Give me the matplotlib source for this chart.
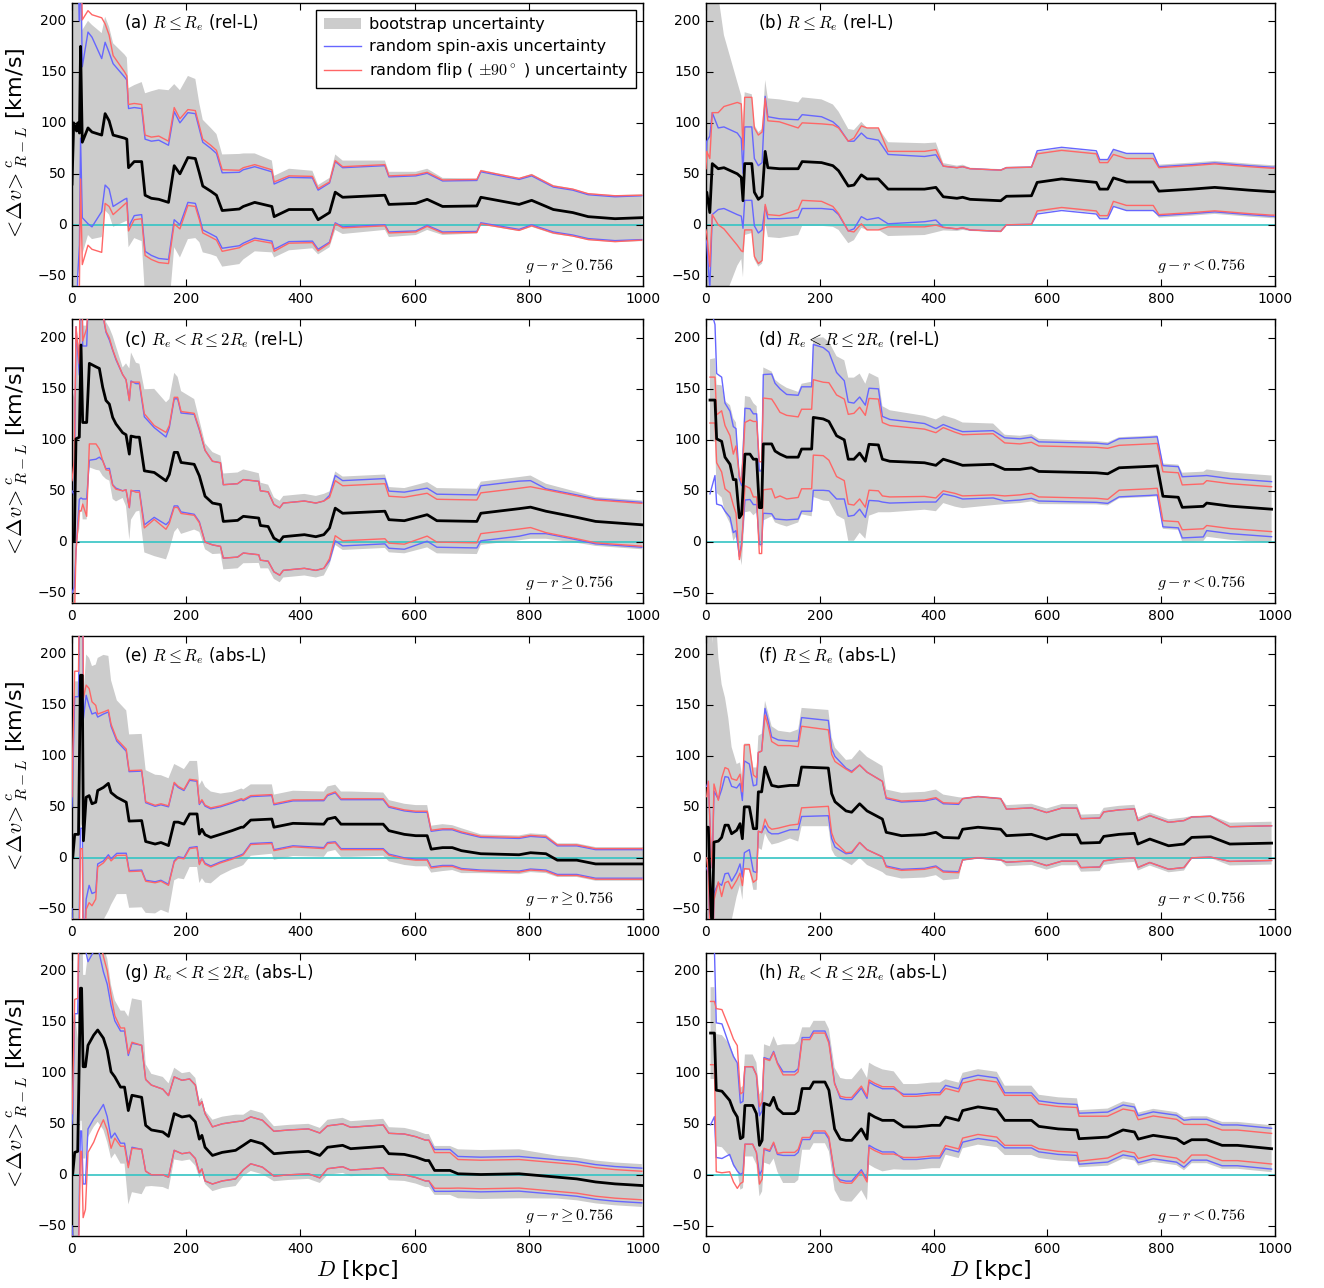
import numpy as np
import matplotlib
matplotlib.use('Agg')
import matplotlib.pyplot as plt
from matplotlib.patches import Patch
from matplotlib.lines import Line2D

plt.style.use('classic')

# ---------------- data ----------------
# D [kpc], mean <dv>, bootstrap half-width, spin-axis half-width, flip half-width
x_a = [0, 3, 8, 10, 13, 15, 18, 28, 35, 52, 58, 65, 72, 92, 96, 99, 109, 122, 128, 139, 152, 169, 179, 189, 203, 216, 223, 229, 243, 253, 263, 293, 300, 320, 350, 354, 380, 421, 431, 451, 461, 474, 548, 555, 602, 622, 649, 709, 716, 783, 805, 843, 877, 904, 951, 998]
mean_a = [40, 100, 92, 100, 90, 175, 81, 95, 91, 88, 109, 102, 88, 85, 84, 56, 62, 62, 29, 26, 25, 22, 58, 50, 66, 65, 51, 38, 33, 29, 14, 15.5, 18, 22, 18, 8, 15, 15, 5, 12, 32, 27, 29, 20, 21, 25, 18, 18.5, 27, 20, 24, 15, 12, 8, 6, 7]
boot_a = [200, 200, 180, 150, 130, 120, 110, 105, 105, 100, 95, 92, 90, 82, 80, 78, 75, 78, 100, 105, 108, 110, 80, 82, 80, 78, 68, 65, 62, 60, 55, 54, 52, 48, 45, 40, 40, 38, 34, 34, 37, 36, 34, 32, 31, 30, 28, 27, 27, 26, 26, 24, 23.5, 23, 23, 23]
spin_a = [200, 250, 200, 150, 110, 90, 74, 94, 93, 75, 70, 67, 70, 60, 58, 58, 53, 52, 55, 56, 58, 56, 53, 50, 44, 44, 43, 43, 42, 41, 37, 36, 36, 35, 34, 32, 31.5, 31, 29, 29, 30, 29, 29, 27, 27, 25.5, 25, 25, 25, 24.5, 24, 22, 22, 21.5, 21.5, 21.5]
flip_a = [250, 300, 250, 200, 150, 130, 120, 115, 115, 115, 88, 84, 78, 65, 62, 62, 57, 56, 59, 60, 62, 60, 57, 54, 47, 47, 46, 46, 45, 44, 40, 38, 38, 37, 36, 34, 33, 32.5, 30.5, 30, 31, 30, 30, 28, 28, 26.5, 26, 26, 26, 25.5, 25, 23, 23, 22.5, 22.5, 22]

x_b = [0, 1.3, 6.7, 11, 21.5, 31.5, 55, 62, 65, 68, 80.5, 85, 92, 98.6, 104, 108.7, 129, 162, 169, 203, 223, 233, 250, 260, 273, 283, 303, 320, 384, 404, 417, 441, 451, 464, 518, 528, 572, 582, 625, 686, 692, 706, 716, 739, 786, 796, 854, 894, 954, 994, 1000]
mean_b = [25, 32, 12, 60, 55, 56, 50, 46.5, 23.6, 60, 60, 32, 25, 28, 72, 56, 55, 55, 62, 61, 58, 53, 38, 39, 49, 45, 45, 35, 35, 36.7, 27.5, 26, 27, 25, 23.6, 28, 28.5, 41.6, 45, 41.6, 35, 35, 46, 42, 42, 33, 35, 36.7, 34, 32.5, 32.5]
boot_b = [200, 250, 230, 200, 170, 130, 90, 80, 75, 70, 68, 66, 66, 66, 70, 68, 68, 65, 63, 62, 60, 58, 56, 54, 52, 50, 50, 46, 45, 44, 33, 32, 32, 31, 31, 29, 29, 30, 30, 30, 29, 29, 28, 28, 28, 26, 26, 26, 26, 26, 26]
spin_b = [40, 50, 75, 50, 40, 40, 40, 38, 27, 36, 36, 33, 33, 33, 54, 50, 49, 48, 46, 45, 43, 43, 44, 43, 41, 40, 38, 34, 32, 32, 30, 30, 30, 30, 30, 28, 28, 31, 31, 31, 29, 29, 28, 28, 28, 24, 24, 24, 24, 24, 24]
flip_b = [30, 40, 53, 50, 55, 60, 70, 72, 50, 65, 65, 63, 63, 63, 52, 46, 46, 40, 38, 38, 40, 42, 44, 46, 48, 50, 50, 37, 37, 37, 30, 30, 30, 30, 30, 28, 28, 28, 28, 28, 26, 26, 23, 23, 23, 23, 23, 23, 23, 23, 23]

x_c = [0, 4.1, 7, 12.8, 15.8, 18.7, 25.7, 30.4, 42, 47.9, 53.7, 59.5, 65.4, 71.2, 77, 88.7, 94.6, 100.4, 103.3, 112, 118, 126.7, 144, 164.6, 170.4, 179, 185, 191, 214, 223, 233, 246, 260, 265, 290, 300, 327, 330, 343.5, 353.6, 363.7, 370, 407, 427, 441, 451, 461, 474, 548, 555, 582, 622, 639, 709, 716, 783, 803, 830, 884, 917, 998]
mean_c = [0, 0.7, 101, 102.6, 193, 117, 117, 175, 171.6, 170, 151.7, 138.6, 135, 122, 115.6, 107, 105, 86, 103.7, 102.6, 102.6, 69.6, 68, 59.8, 66, 87.7, 87.7, 77.8, 76, 64.7, 44.7, 38, 36.5, 20, 21, 25, 23.3, 16, 15, 3.6, 0.3, 5, 7, 5, 7, 13.5, 33, 28, 30, 21.7, 20.7, 26.6, 20.7, 20, 28, 32.5, 34, 30, 24, 20, 16.7]
boot_c = [150, 140, 100, 90, 150, 95, 95, 102, 101, 100, 87, 77, 75, 80, 76, 64, 70, 84, 82, 73, 72, 80, 82, 77, 74, 78, 74, 70, 64, 55, 52, 50, 48, 47, 47, 46, 44, 42, 41, 40, 40, 40, 40, 40, 40, 36, 36, 36, 36, 32, 32, 32, 32, 32, 31, 31, 31, 27, 25, 24, 24]
spin_c = [50, 45, 110, 61, 150, 75, 75, 95, 90.6, 87, 72, 67, 63, 66, 63, 57, 54, 52.5, 54, 52.5, 52.5, 53, 44, 43, 46, 52.5, 52.5, 48.5, 49, 45, 45, 41, 41, 36, 36, 36, 36, 34, 34, 33, 33, 33, 33, 33, 33, 32, 32, 32, 32, 28, 28, 26, 26, 26, 27, 27, 26, 22, 22, 22, 22]
flip_c = [60, 80, 110, 72, 163, 80, 92, 79, 75.6, 79, 72, 68, 65, 66.5, 64, 57, 54, 52.5, 53, 54, 54, 56, 46, 47.5, 48, 54, 54, 50, 50, 46, 45, 41, 41, 36, 36, 36, 36, 34, 34, 33, 33, 33, 33, 33, 33, 30, 27, 27, 27, 23, 23, 21, 21, 21, 20, 20, 20, 21, 21, 21, 21]

x_d = [7, 15.8, 18.7, 27.5, 33.4, 42.2, 48, 52.7, 58.6, 62.7, 68.5, 77.3, 83.2, 89, 93.7, 97.8, 100.7, 115.4, 121.3, 130, 141.8, 162, 168, 185.7, 188.6, 206, 216, 229.5, 243, 250, 260, 270, 280, 286.5, 303, 310, 323, 384, 404, 417, 437.5, 451, 504.6, 525, 551.6, 572, 585, 686, 706, 726, 780, 793, 803, 830, 837, 874, 880, 921, 994]
mean_d = [139, 139, 101, 98.5, 83, 76, 61, 61, 23.6, 27, 86, 86, 81, 81, 33.5, 33.5, 96, 96, 89, 86, 83, 83, 91, 91, 122, 120.5, 118, 104, 100, 81, 81, 87, 79, 95.6, 95, 81, 79, 77.5, 75, 81, 77.5, 75, 76, 71, 71, 72.6, 69, 67.7, 66.7, 72.6, 74, 74.5, 44.7, 43.7, 33.8, 34.8, 38, 35, 32]
boot_d = [40, 41, 53, 55, 55, 58, 60, 56, 34, 50, 57, 56, 55, 52, 38, 38, 75, 71, 70, 69, 68, 64, 64, 66, 78, 80, 78, 78, 78, 80, 80, 78, 76, 70, 66, 52, 50, 46, 45, 43, 43, 42, 40, 34, 33, 33, 32, 31, 31, 30, 30, 30, 32, 32, 34, 34, 33, 33, 33]
spin_d = [92, 74, 64, 63, 53, 52, 52, 50, 38, 28, 45, 44.5, 44.5, 44.5, 36, 36, 68, 68.5, 66.5, 64, 61.5, 60.7, 61, 61, 71.5, 70, 68, 62, 58, 56, 55, 55, 55, 55, 55, 42, 41, 38.5, 36, 34, 33, 33, 33, 31, 30, 30, 29, 29, 29, 28.5, 28.5, 28.5, 30, 30, 30, 30, 27, 27, 27]
flip_d = [22.5, 22.5, 23.5, 30, 31, 28, 25, 33, 41, 31, 31, 33.5, 37, 37, 45, 45, 45, 44, 46, 41, 41, 39.5, 39, 39, 37, 36, 38, 40, 40, 44, 45, 45, 45, 45, 45, 36, 35, 33, 32, 31, 30, 30, 30, 26, 25, 25, 25, 25, 25, 22, 22, 22, 24, 24, 22, 22, 22, 22, 22]

x_e = [0, 1.3, 4.7, 11.4, 14.8, 18, 20, 24.8, 30, 35, 41.6, 45, 55, 63.7, 68.4, 78.5, 95, 100, 122, 129, 145.6, 155.7, 169, 179, 186, 196, 206, 219, 223, 227.5, 233, 243, 260, 280, 296.6, 300, 313, 350, 353.6, 387, 441, 447.5, 461, 471, 488, 545, 555, 582, 602, 622, 629, 649, 666, 682, 716, 783, 803, 830, 850, 884, 917, 984, 1000]
mean_e = [0, 0, 23, 23, 179, 179, 16.7, 59.4, 61, 53, 54.5, 66, 69, 73, 64, 59.4, 54.5, 36, 36.5, 16, 13.5, 15, 12, 35, 35, 33, 43, 43, 23.3, 28, 22.7, 20, 23, 26.6, 30, 30, 37, 38, 30, 33.8, 33, 38, 39.7, 33, 33, 33, 26.6, 23, 21.7, 21.7, 8.5, 10, 10, 7, 4, 3, 5, 4, -2.3, -2.3, -6, -6, -6]
boot_e = [150, 150, 150, 150, 150, 145, 140, 140, 135, 135, 135, 130, 130, 125, 110, 95, 90, 85, 85, 70, 68, 66, 66, 57, 55, 54, 52, 52, 48, 48, 47, 45, 40, 38, 38, 37, 35, 34, 32, 32, 32, 32, 32, 32, 32, 31, 30, 30, 30, 30, 23, 23, 22, 22, 19, 19, 19, 19, 16.5, 16.5, 16.5, 16.5, 16.5]
spin_e = [50, 80, 135, 135, 150, 150, 120, 100, 88, 88, 88, 72, 72, 70, 65, 55, 50, 48.5, 48.5, 38, 37, 37, 38, 38, 34, 33, 33, 32, 29, 28, 28, 28, 27, 27, 27, 26, 23, 23, 22, 22, 23, 23, 24, 24, 24, 24, 23, 23, 23, 23, 17.5, 17.5, 17.5, 17.5, 16, 16, 16, 16, 14, 14, 14, 14, 14]
flip_e = [60, 100, 160, 160, 170, 170, 140, 110, 105, 100, 95, 75, 74, 72, 67, 57, 52, 49.5, 49.5, 39, 38, 38, 39, 39, 35, 34, 34, 33, 30, 29, 29, 29, 28, 28, 28, 27, 24, 24, 23, 23, 24, 24, 25, 25, 25, 25, 24, 24, 24, 24, 18.5, 18.5, 18.5, 18.5, 17, 17, 17, 17, 15, 15, 15, 15, 15]

x_f = [1.3, 4.1, 8.8, 11.1, 14, 21.7, 27.5, 33.4, 39.2, 45, 53.9, 59.8, 63.9, 67.4, 76.2, 83.2, 89, 92, 97.8, 103.7, 109.6, 115.4, 127, 147.6, 162, 168, 215, 220.8, 226.7, 246, 256, 270, 283, 310, 316.7, 343.5, 384, 404, 417, 444, 451, 478, 518, 528, 572, 598.5, 625, 652, 659, 692, 699, 726, 753, 759, 780, 813, 840, 853.5, 887, 920.6, 994]
mean_f = [30, 30, -52, -70, 15.4, 16.4, 20, 32, 32, 23.6, 27, 33.5, 18.7, 50, 50, 28.6, 28.6, 64.7, 64.7, 89, 79.5, 71, 69.6, 71, 71, 89, 88, 63, 55, 46, 44.7, 53, 46, 38, 25, 21.7, 22.7, 25, 20, 19.4, 28, 30, 28, 21.7, 23, 18.4, 22.7, 22.7, 14.4, 15, 21, 23, 24, 13.5, 18.4, 11.8, 13.5, 20, 20.7, 13.5, 14.4]
boot_f = [250, 280, 300, 280, 250, 180, 150, 125, 105, 85, 65, 60, 60, 62, 62, 60, 60, 55, 57, 65, 62, 58, 55, 52, 55, 58, 57, 55, 53, 50, 52, 53, 53, 52, 42, 42, 42, 42, 42, 40, 31, 31, 31, 30, 30, 30, 30, 30, 28, 28, 28, 28, 28, 26, 26, 26, 26, 21, 21, 21, 21]
spin_f = [40, 45, 60, 60, 50, 41, 47, 47.6, 47, 46.5, 41.5, 39.5, 37.5, 45, 42, 42, 43, 38.6, 40, 57.5, 54, 47.5, 46, 43.5, 43.5, 48.5, 46.7, 44, 44.4, 42, 40, 38, 38, 37, 33, 33, 33, 33, 33, 33, 30, 30, 30, 26, 26, 26, 26, 26, 24, 24, 24, 24, 24, 23, 23, 23, 23, 20, 20, 17, 17]
flip_f = [30, 45, 60, 60, 57, 40, 58, 56.5, 55, 54, 49, 48.5, 46, 60.6, 61, 52.6, 50, 38.6, 40, 51, 49, 43, 40.5, 39, 38, 40, 37.5, 38.5, 39.4, 41, 39, 38, 38, 37, 34, 34, 34, 34, 34, 34, 30, 30, 30, 26, 26, 26, 26, 26, 24, 24, 24, 24, 24, 23, 23, 23, 23, 20, 20, 17, 17]

x_g = [0, 1.3, 4.7, 10, 14.8, 16.8, 19.5, 23.5, 28, 38, 45, 55, 61.7, 68.4, 75, 85, 92, 98.6, 105, 122, 129, 139, 159, 169, 179, 192.6, 206, 216, 223, 227.5, 233, 246, 263, 286.5, 300, 313, 333.5, 353.6, 380, 414, 434, 447.5, 474, 488, 545, 555, 582, 602, 619, 625, 635, 662, 676, 716, 783, 850, 884, 917, 951, 998]
mean_g = [0, 1, 22, 23, 183, 183, 106, 106, 127, 137, 142, 134, 122, 101, 96, 86, 86, 63, 78, 76, 48.5, 44, 42, 37.7, 60, 56.7, 58, 52, 35, 38.7, 27, 19, 22, 24, 28.9, 33.8, 30.5, 20.7, 22, 23, 19, 27, 28.9, 25.6, 27.9, 20.7, 20, 17.4, 14, 14, 4.3, 4.3, 1, 0.3, 1, -2.3, -4, -7, -8.9, -10.5]
boot_g = [150, 150, 140, 110, 130, 130, 90, 90, 90, 90, 90, 90, 90, 85, 75, 75, 75, 92, 95, 95, 60, 55, 54, 52, 45, 43, 43, 43, 38, 37, 36, 35, 35, 35, 30, 30, 30, 27, 27, 27, 27, 27, 27, 27, 27, 26, 26, 26, 26, 26, 24, 24, 24, 24, 24, 21, 21, 21, 21, 21]
spin_g = [50, 60, 136, 135, 140, 140, 115, 115, 82, 82, 82, 65, 65, 65, 55, 55, 55, 54, 51, 51, 45, 44, 42, 40, 36, 36, 36, 36, 33, 33, 33, 28, 28, 28, 24, 23, 23, 22, 22, 22, 22, 21, 21, 21, 21, 20, 20, 20, 20, 20, 20.5, 20.5, 17, 17, 17, 17, 17, 17, 17, 17]
flip_g = [60, 80, 150, 150, 160, 160, 148, 140, 105, 105, 100, 80, 78, 75, 60, 58, 58, 56, 52, 51, 45, 44, 42, 40, 36, 36, 36, 36, 33, 33, 33, 28, 28, 28, 24, 23, 23, 22, 22, 22, 22, 21, 21, 21, 21, 20, 20, 20, 20, 20, 17.5, 17.5, 14, 14, 14, 14, 14, 14, 14, 14]

x_h = [8, 14.8, 18, 28, 41.6, 48.3, 55, 60.4, 65, 68.4, 82, 88.6, 94, 98.6, 102, 112, 118.8, 125.5, 135.5, 155.7, 162, 169, 182.5, 189, 209, 216, 226, 236, 246, 256, 273, 283, 286.5, 296.6, 310, 330, 347, 370, 397, 411, 421, 444, 451, 478, 511, 525, 572, 585, 619, 652, 655.6, 706, 733, 753, 759.6, 786, 827, 840, 853.5, 880, 907, 934, 994]
mean_h = [139, 139, 83, 82, 73, 63, 56.7, 35.4, 37, 68, 68, 60, 28.9, 33.8, 70, 68, 76, 65, 60, 60, 63, 84.6, 84.6, 91, 91, 83, 45, 35, 33.8, 33.8, 45, 35, 60, 56.7, 53.4, 53.4, 47, 47, 48.5, 48.5, 56.7, 53.4, 63, 66.6, 64, 53.4, 53.4, 47.5, 45, 44, 35.4, 37, 44, 42, 35, 38.7, 35.4, 30.5, 34.4, 34.4, 28.9, 28.9, 25.6]
boot_h = [45, 45, 55, 55, 55, 55, 52, 50, 50, 50, 50, 50, 50, 50, 58, 58, 60, 62, 68, 68, 68, 60, 60, 60, 60, 60, 60, 60, 60, 60, 60, 60, 50, 50, 50, 48, 42, 42, 42, 42, 37, 37, 37, 37, 37, 34, 34, 31, 31, 31, 28, 28, 28, 28, 26, 26, 26, 26, 23, 23, 23, 23, 23]
spin_h = [90, 82, 66, 66, 53, 53, 53, 35, 35, 38, 38, 38, 29, 29, 45, 45, 45, 45, 41, 41, 41, 50, 50, 50, 50, 48, 45, 40, 40, 40, 40, 40, 31, 31, 31, 31, 32, 32, 32, 32, 31, 31, 31, 31, 31, 27, 27, 25, 25, 25, 25, 24.5, 24.5, 24.5, 23, 23, 23, 23, 20, 20, 20, 20, 20]
flip_h = [31, 31, 80, 80, 70, 70, 70, 44, 44, 38, 38, 38, 38, 38, 44, 44, 44, 44, 38, 38, 38, 48, 48, 48, 48, 46, 44, 42, 42, 42, 42, 42, 33, 33, 33, 33, 30, 30, 30, 30, 28, 28, 27, 27, 27, 24.5, 24.5, 22, 22, 22, 22, 20.5, 20.5, 20.5, 19, 19, 19, 19, 15, 15, 15, 15, 15]

panel_labels = ['(a)', '(b)', '(c)', '(d)', '(e)', '(f)', '(g)', '(h)']
radius_labels = [r'$R\leq R_e$', r'$R\leq R_e$', r'$R_e<R\leq 2R_e$', r'$R_e<R\leq 2R_e$',
                 r'$R\leq R_e$', r'$R\leq R_e$', r'$R_e<R\leq 2R_e$', r'$R_e<R\leq 2R_e$']
lum_labels = ['(rel-L)', '(rel-L)', '(rel-L)', '(rel-L)', '(abs-L)', '(abs-L)', '(abs-L)', '(abs-L)']
color_labels = [r'$g-r\geq0.756$', r'$g-r<0.756$'] * 4
xticks = [0, 200, 400, 600, 800, 1000]
yticks = [-50, 0, 50, 100, 150, 200]
legend_labels = ['bootstrap uncertainty', 'random spin-axis uncertainty',
                 r'random flip ( $\pm90^\circ$ ) uncertainty']

series = [
    (x_a, mean_a, boot_a, spin_a, flip_a),
    (x_b, mean_b, boot_b, spin_b, flip_b),
    (x_c, mean_c, boot_c, spin_c, flip_c),
    (x_d, mean_d, boot_d, spin_d, flip_d),
    (x_e, mean_e, boot_e, spin_e, flip_e),
    (x_f, mean_f, boot_f, spin_f, flip_f),
    (x_g, mean_g, boot_g, spin_g, flip_g),
    (x_h, mean_h, boot_h, spin_h, flip_h),
]

# ---------------- figure ----------------
W, H = 1324, 1288
fig = plt.figure(figsize=(W / 100, H / 100), dpi=100, facecolor='white')

col_left = [72, 706]
col_width = [571, 569]
row_bottom = [286, 603, 919, 1236]
ax_h = 283.5

grey_c = '#cccccc'
blue_c = '#6666ff'
red_c = '#ff6666'

for i, (xs, m, bt, sp, fl) in enumerate(series):
    r, c = divmod(i, 2)
    left = col_left[c] / W
    bottom = (H - row_bottom[r]) / H
    ax = fig.add_axes([left, bottom, col_width[c] / W, ax_h / H])
    ax.set_facecolor('white')
    xs = np.asarray(xs, float)
    m = np.asarray(m, float)
    bt = np.asarray(bt, float)
    sp = np.asarray(sp, float)
    fl = np.asarray(fl, float)
    ax.fill_between(xs, m - bt, m + bt, facecolor=grey_c, edgecolor='none', zorder=1)
    ax.axhline(0, color='#33c4c4', lw=1.2, zorder=2)
    ax.plot(xs, m + sp, color=blue_c, lw=1.0, zorder=3)
    ax.plot(xs, m - sp, color=blue_c, lw=1.0, zorder=3)
    ax.plot(xs, m + fl, color=red_c, lw=1.0, zorder=4)
    ax.plot(xs, m - fl, color=red_c, lw=1.0, zorder=4)
    ax.plot(xs, m, color='black', lw=2.0, zorder=5)
    ax.set_xlim(0, 1000)
    ax.set_ylim(-60, 218)
    ax.set_xticks(xticks)
    ax.set_yticks(yticks)
    ax.tick_params(axis='both', which='major', direction='in', top=True, right=True,
                   labelsize=10, length=5, width=0.8)
    ax.minorticks_off()
    ax.text(0.091, 0.928, panel_labels[i] + ' ' + radius_labels[i] + ' ' + lum_labels[i],
            transform=ax.transAxes, fontsize=12, ha='left', va='center')
    ax.text(0.948, 0.072, color_labels[i], transform=ax.transAxes, fontsize=11.5,
            ha='right', va='center')
    if c == 0:
        ax.set_ylabel(r'$<\!\Delta v\!>^c_{R-L}$ [km/s]', fontsize=16, labelpad=6)
    if r == 3:
        ax.set_xlabel(r'$D$ [kpc]', fontsize=16, labelpad=2)
    if i == 0:
        handles = [Patch(facecolor=grey_c, edgecolor='none'),
                   Line2D([], [], color=blue_c, lw=1.0),
                   Line2D([], [], color=red_c, lw=1.0)]
        leg = ax.legend(handles, legend_labels, loc='upper right', fontsize=11.6,
                        frameon=True, fancybox=False, numpoints=1, handlelength=2.3,
                        borderaxespad=0.45, labelspacing=0.45, handletextpad=0.5,
                        borderpad=0.45)
        leg.get_frame().set_edgecolor('black')
        leg.get_frame().set_linewidth(1.0)

fig.savefig('out.png', dpi=100, facecolor='white')
